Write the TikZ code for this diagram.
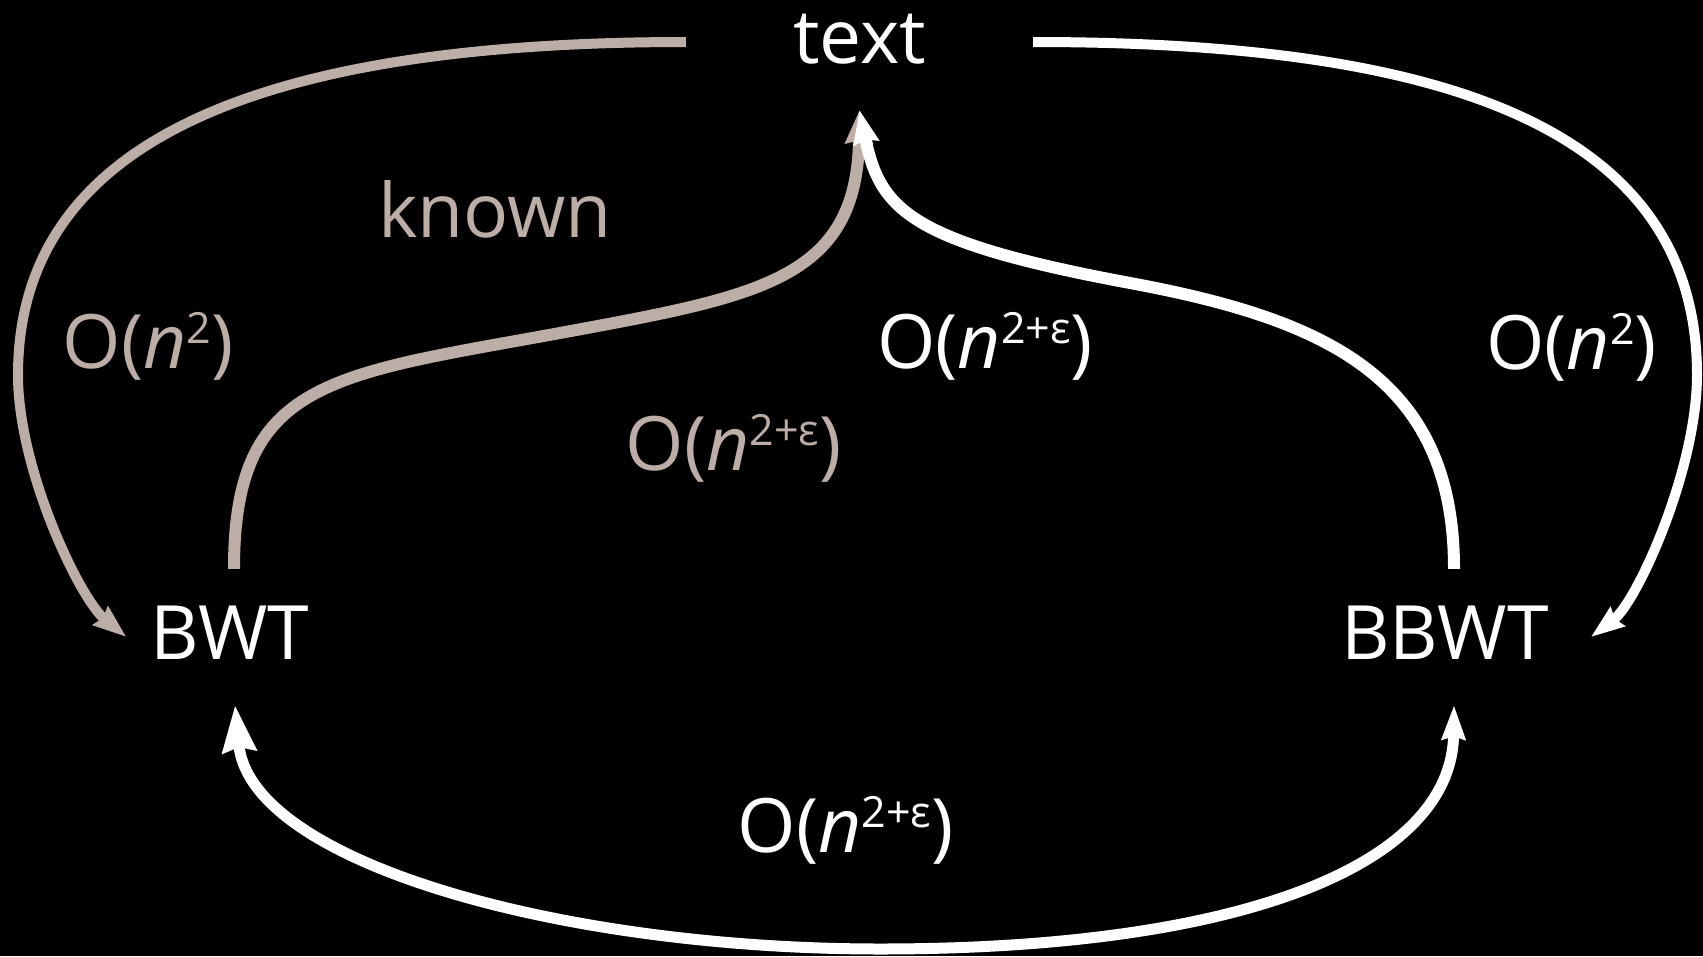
\documentclass[tikz,border=0pt]{standalone}
\usepackage{fontspec}
\setmainfont{Open Sans}
\usetikzlibrary{arrows.meta}
\definecolor{pale}{RGB}{188,173,166}
\newcommand{\supx}[1]{\raisebox{25pt}{\fontsize{43}{43}\selectfont #1}}
\begin{document}
\begin{tikzpicture}[x=1pt,y=-1pt,
  lbl/.style={inner sep=0pt, font=\fontsize{75}{82}\selectfont, text=white, anchor=base},
  palelbl/.style={lbl, text=pale},
  outerline/.style={line width=10pt},
  innerline/.style={line width=12pt},
  bottomline/.style={line width=11pt, white}]
\useasboundingbox (0,0) rectangle (1703,956);
\fill[black] (0,0) rectangle (1703,956);

% main nodes
\node[lbl, text height=42pt, text depth=0pt, inner xsep=107pt, inner ysep=47pt] (txt) at (859.5,63) {text};
\node[lbl, text height=52pt, text depth=8pt, inner xsep=24pt, inner ysep=38pt] (bwt) at (230,659) {BWT};
\node[lbl, text height=52pt, text depth=8pt, inner xsep=42pt, inner ysep=38pt] (bbwt) at (1445,659) {BBWT};

% labels
\node[palelbl] (known) at (495,237) {known};
\node[palelbl] (lblL) at (148,368) {O(\textit{n}\supx{2})};
\node[palelbl] (lblGI) at (733.5,470) {O(\textit{n}\supx{2+ε})};
\node[lbl] (lblWI) at (985,368) {O(\textit{n}\supx{2+ε})};
\node[lbl] (lblR) at (1571.5,369) {O(\textit{n}\supx{2})};
\node[lbl] (lblB) at (845.5,852) {O(\textit{n}\supx{2+ε})};

% outer arcs
\draw[pale, outerline, -{Stealth[length=33pt,width=23pt,inset=3pt]}]
  (txt.west) .. controls (250,42) and (18,145) .. (18,375)
  .. controls (18,470) and (80,599) .. (bwt.west);
\draw[white, outerline, -{Stealth[length=33pt,width=23pt,inset=3pt]}]
  (txt.east) .. controls (1450,42) and (1697,130) .. (1697,375)
  .. controls (1697,470) and (1637,602) .. (bbwt.east);

% inner arcs
\draw[pale, innerline, -{Stealth[length=33pt,width=27pt,inset=3pt]}]
  ([xshift=4pt]bwt.north) .. controls (234,380) and (330,375) .. (560,333)
  .. controls (760,296) and (857,280) .. (txt.south);
\draw[white, innerline, -{Stealth[length=33pt,width=25pt,inset=3pt]}]
  ([xshift=9pt]bbwt.north) .. controls (1454,380) and (1330,320) .. (1130,283)
  .. controls (910,242) and (880,210) .. (txt.south);

% bottom arc
\draw[bottomline, {Stealth[length=46pt,width=33pt,inset=4pt]}-{Stealth[length=34pt,width=23pt,inset=3pt]}]
  ([xshift=5pt]bwt.south) .. controls (250,862) and (560,949) .. (880,949)
  .. controls (1250,949) and (1452,862) .. ([xshift=9pt]bbwt.south);
\end{tikzpicture}
\end{document}
